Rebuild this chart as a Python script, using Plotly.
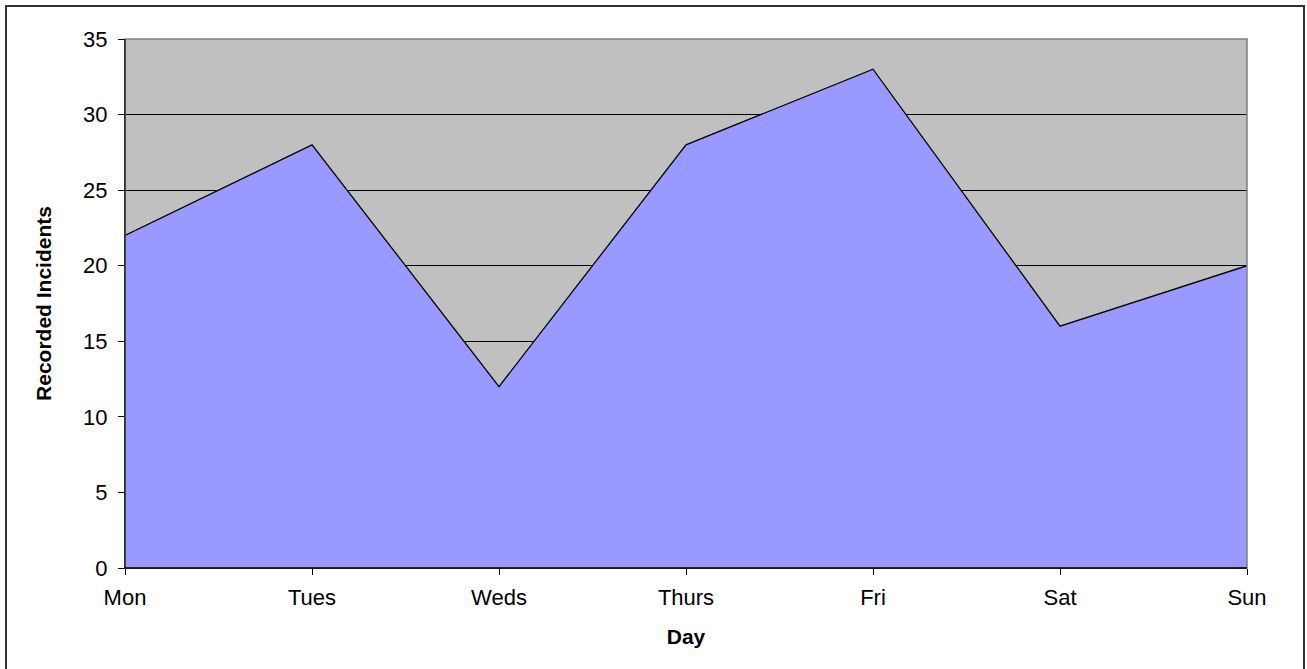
import plotly.graph_objects as go

days = ["Mon", "Tues", "Weds", "Thurs", "Fri", "Sat", "Sun"]
incidents = [22, 28, 12, 28, 33, 16, 20]
y_ticks = [0, 5, 10, 15, 20, 25, 30, 35]

fig = go.Figure()
fig.add_trace(go.Scatter(
    x=days, y=incidents, mode="lines", fill="tozeroy",
    fillcolor="#9999FF", line=dict(color="black", width=1.3),
    hoverinfo="x+y",
))

W, H = 1307, 669
L, R, T, B = 125, 60, 39, 101
pw, ph = W - L - R, H - T - B

def px(x):
    return (x - L) / pw

def py(y):
    return (H - B - y) / ph

fig.update_layout(
    width=W, height=H,
    margin=dict(l=L, r=R, t=T, b=B),
    paper_bgcolor="white", plot_bgcolor="#C0C0C0",
    font=dict(family="Liberation Sans, Arial, sans-serif", size=22, color="black"),
    showlegend=False,
    xaxis=dict(
        type="category", range=[0, len(days) - 1],
        showgrid=False, showline=True, linecolor="black", linewidth=1,
        ticks="outside", ticklen=6, tickcolor="black",
        tickfont=dict(size=22), ticklabelstandoff=4,
        title=dict(text="<b>Day</b>", font=dict(size=21), standoff=19),
    ),
    yaxis=dict(
        range=[0, 35], tickvals=y_ticks,
        showgrid=True, gridcolor="black", gridwidth=1,
        zeroline=False, showline=True, linecolor="black", linewidth=1,
        ticks="outside", ticklen=6, tickcolor="black",
        tickfont=dict(size=22), ticklabelstandoff=6,
        title=dict(text="<b>Recorded Incidents</b>", font=dict(size=21), standoff=25),
    ),
    shapes=[
        dict(type="rect", xref="paper", yref="paper", x0=0, x1=1, y0=0, y1=1,
             line=dict(color="#808080", width=1.5), layer="above"),
        dict(type="line", xref="paper", yref="paper", x0=0, x1=0, y0=0, y1=1,
             line=dict(color="black", width=1), layer="above"),
        dict(type="line", xref="paper", yref="paper", x0=0, x1=1, y0=0, y1=0,
             line=dict(color="black", width=1.5), layer="above"),
        dict(type="rect", xref="paper", yref="paper",
             x0=px(6), x1=px(1304), y0=py(690), y1=py(6),
             line=dict(color="#333333", width=2)),
    ],
)

fig.write_html(
    "out.html",
    config={"displayModeBar": False},
    post_script="document.body.style.margin='0';document.body.style.overflow='hidden';",
)
